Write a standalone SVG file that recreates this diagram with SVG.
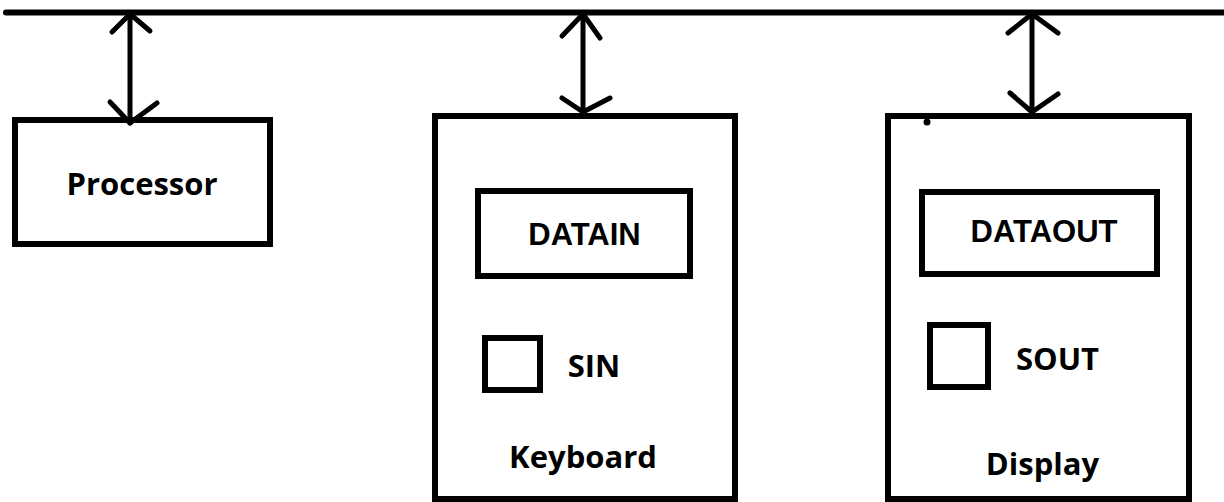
<svg xmlns="http://www.w3.org/2000/svg" width="1224" height="502" viewBox="0 0 1224 502">
  <style>
    .box { fill: none; stroke: #000; stroke-width: 6; }
    .wire { fill: none; stroke: #000; stroke-width: 5; stroke-linecap: round; stroke-linejoin: round; }
    .bus { fill: none; stroke: #000; stroke-width: 6; stroke-linecap: round; }
    .lbl { font-family: "Open Sans", "Noto Sans", sans-serif; font-weight: bold; font-size: 31px; fill: #000; text-anchor: middle; }
    .reg { font-family: "Liberation Sans", Arial, sans-serif; font-weight: bold; font-size: 31px; fill: #000; text-anchor: middle; }
  </style>
  <rect width="1224" height="502" fill="#fff"/>

  <!-- system bus -->
  <line id="bus" class="bus" x1="6" y1="12.5" x2="1230" y2="12.5"/>

  <!-- bus connections (bidirectional) -->
  <g id="connectors">
    <g id="bus-processor">
      <line class="wire" x1="130" y1="14" x2="130" y2="123"/>
      <polyline class="wire" points="112,32 130,14 150,31"/>
      <polyline class="wire" points="110,102 130,123 157,103"/>
    </g>
    <g id="bus-keyboard">
      <line class="wire" x1="583" y1="14" x2="583" y2="112"/>
      <polyline class="wire" points="562,36 583,14 600,38"/>
      <polyline class="wire" points="562,98 583,112 610,98"/>
    </g>
    <g id="bus-display">
      <line class="wire" x1="1032" y1="14" x2="1032" y2="112"/>
      <polyline class="wire" points="1008,33 1032,14 1058,33"/>
      <polyline class="wire" points="1010,93 1032,112 1058,94"/>
    </g>
  </g>

  <!-- processor -->
  <g id="processor">
    <rect class="box" x="15" y="120" width="255" height="124"/>
    <text class="lbl" x="142" y="195">Processor</text>
  </g>

  <!-- keyboard interface -->
  <g id="keyboard">
    <rect class="box" x="435" y="116" width="300" height="383"/>
    <g id="datain">
      <rect class="box" x="478" y="191" width="212" height="85"/>
      <text class="reg" x="584.5" y="245">DATAIN</text>
    </g>
    <g id="sin">
      <rect class="box" x="485" y="338" width="55" height="52"/>
      <text class="lbl" x="594" y="377">SIN</text>
    </g>
    <text class="lbl" x="583" y="468">Keyboard</text>
  </g>

  <!-- display interface -->
  <g id="display">
    <rect class="box" x="888" y="116" width="301" height="383"/>
    <circle cx="927" cy="122" r="3.5" fill="#000"/>
    <g id="dataout">
      <rect class="box" x="922" y="192" width="235" height="82"/>
      <text class="reg" x="1044" y="242">DATAOUT</text>
    </g>
    <g id="sout">
      <rect class="box" x="930" y="325" width="58" height="62"/>
      <text class="lbl" x="1057.5" y="370">SOUT</text>
    </g>
    <text class="lbl" x="1042.5" y="475">Display</text>
  </g>
</svg>
